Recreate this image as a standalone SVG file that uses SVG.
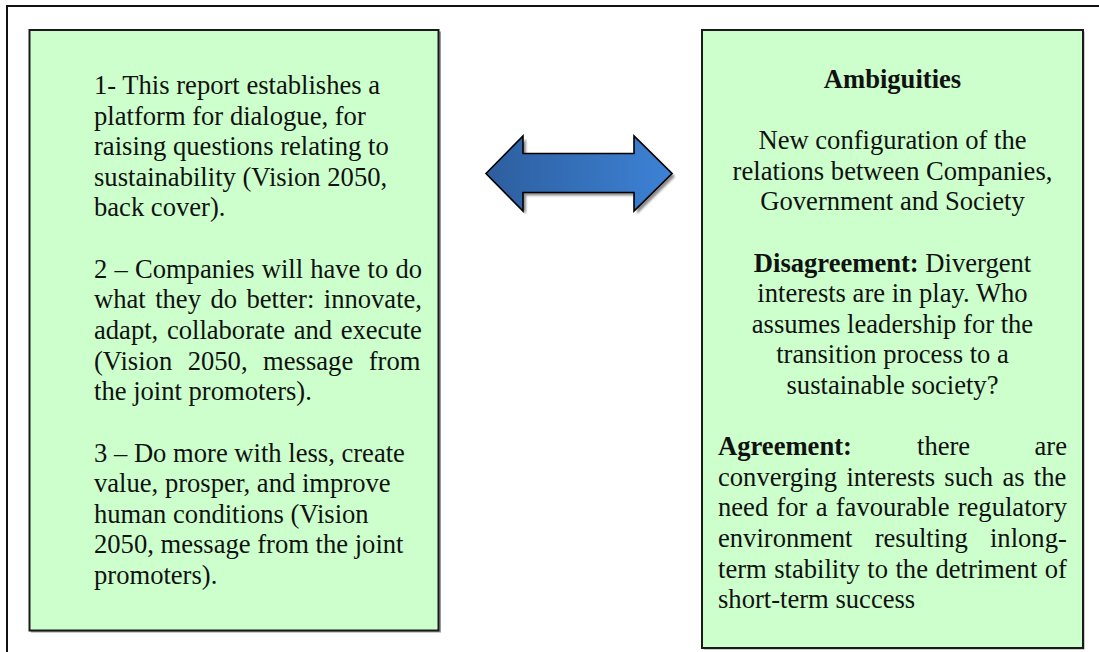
<svg xmlns="http://www.w3.org/2000/svg" width="1099" height="652" viewBox="0 0 1099 652">
  <style>
    .box { fill: #ccffcc; stroke: #1a1a1a; stroke-width: 2; }
    .box-shadow { fill: #9a9a9a; }
    .t { font-family: "Liberation Serif", "Times New Roman", serif; font-size: 26.6px; fill: #111; }
    .c { text-anchor: middle; }
    .b { font-weight: bold; }
    .frame { fill: none; stroke: #111; stroke-width: 2; }
  </style>
  <defs>
    <linearGradient id="arrowFill" x1="0" y1="0" x2="1" y2="0">
      <stop offset="0" stop-color="#2d5e9e"/>
      <stop offset="1" stop-color="#3d82d6"/>
    </linearGradient>
    <filter id="soft" x="-10%" y="-20%" width="120%" height="140%">
      <feGaussianBlur stdDeviation="1"/>
    </filter>
  </defs>

  <rect width="1099" height="652" fill="#ffffff"/>

  <!-- outer frame, open past the right and bottom edges -->
  <rect class="frame" x="7" y="6" width="1110" height="670"/>

  <!-- left node: report statements -->
  <g id="node-statements">
    <rect class="box-shadow" x="31" y="31.5" width="410" height="601"/>
    <rect class="box" x="29.5" y="30" width="409" height="600.5"/>
    <text class="t" x="94" y="94">1- This report establishes a</text>
    <text class="t" x="94" y="124.6">platform for dialogue, for</text>
    <text class="t" x="94" y="155.2">raising questions relating to</text>
    <text class="t" x="94" y="185.8">sustainability (Vision 2050,</text>
    <text class="t" x="94" y="216.4">back cover).</text>

    <text class="t" x="94" y="277.8" word-spacing="0.5">2 – Companies will have to do</text>
    <text class="t" x="94" y="308.4" word-spacing="2.8">what they do better: innovate,</text>
    <text class="t" x="94" y="339" word-spacing="2">adapt, collaborate and execute</text>
    <text class="t" x="94" y="369.6" word-spacing="8.9">(Vision 2050, message from</text>
    <text class="t" x="94" y="400.2">the joint promoters).</text>

    <text class="t" x="94" y="461.6">3 – Do more with less, create</text>
    <text class="t" x="94" y="492.2">value, prosper, and improve</text>
    <text class="t" x="94" y="522.8">human conditions (Vision</text>
    <text class="t" x="94" y="553.4">2050, message from the joint</text>
    <text class="t" x="94" y="584">promoters).</text>
  </g>

  <!-- right node: ambiguities -->
  <g id="node-ambiguities">
    <rect class="box-shadow" x="703.5" y="31.5" width="381" height="618"/>
    <rect class="box" x="702" y="30" width="381" height="618"/>
    <text class="t c b" x="892.5" y="88">Ambiguities</text>
    <text class="t c" x="892.5" y="149.2">New configuration of the</text>
    <text class="t c" x="892.5" y="179.8">relations between Companies,</text>
    <text class="t c" x="892.5" y="210.4">Government and Society</text>

    <text class="t c" x="892.5" y="271.6"><tspan class="b">Disagreement:</tspan><tspan dx="6.6">Divergent</tspan></text>
    <text class="t c" x="892.5" y="302.2">interests are in play. Who</text>
    <text class="t c" x="892.5" y="332.8">assumes leadership for the</text>
    <text class="t c" x="892.5" y="363.4">transition process to a</text>
    <text class="t c" x="892.5" y="394">sustainable society?</text>

    <text class="t b" x="718" y="455.2">Agreement:</text>
    <text class="t" x="917" y="455.2">there</text>
    <text class="t" x="1067" y="455.2" text-anchor="end">are</text>
    <text class="t" x="718" y="485.8" word-spacing="2.65">converging interests such as the</text>
    <text class="t" x="718" y="516.4" word-spacing="1.6">need for a favourable regulatory</text>
    <text class="t" x="718" y="547" word-spacing="15.6">environment resulting inlong-</text>
    <text class="t" x="718" y="577.6" word-spacing="0.8">term stability to the detriment of</text>
    <text class="t" x="718" y="608.2">short-term success</text>
  </g>

  <!-- connector: double-headed block arrow -->
  <g id="connectors">
    <path d="M486,173.5 L523,136 L523,153.5 L634,153.5 L634,136 L672,173.5 L634,211 L634,192.5 L523,192.5 L523,211 Z"
          fill="#8c8c8c" transform="translate(3,3)" filter="url(#soft)"/>
    <path d="M486,173.5 L523,136 L523,153.5 L634,153.5 L634,136 L672,173.5 L634,211 L634,192.5 L523,192.5 L523,211 Z"
          fill="url(#arrowFill)" stroke="#000" stroke-width="1.6" stroke-linejoin="miter"/>
  </g>
</svg>
